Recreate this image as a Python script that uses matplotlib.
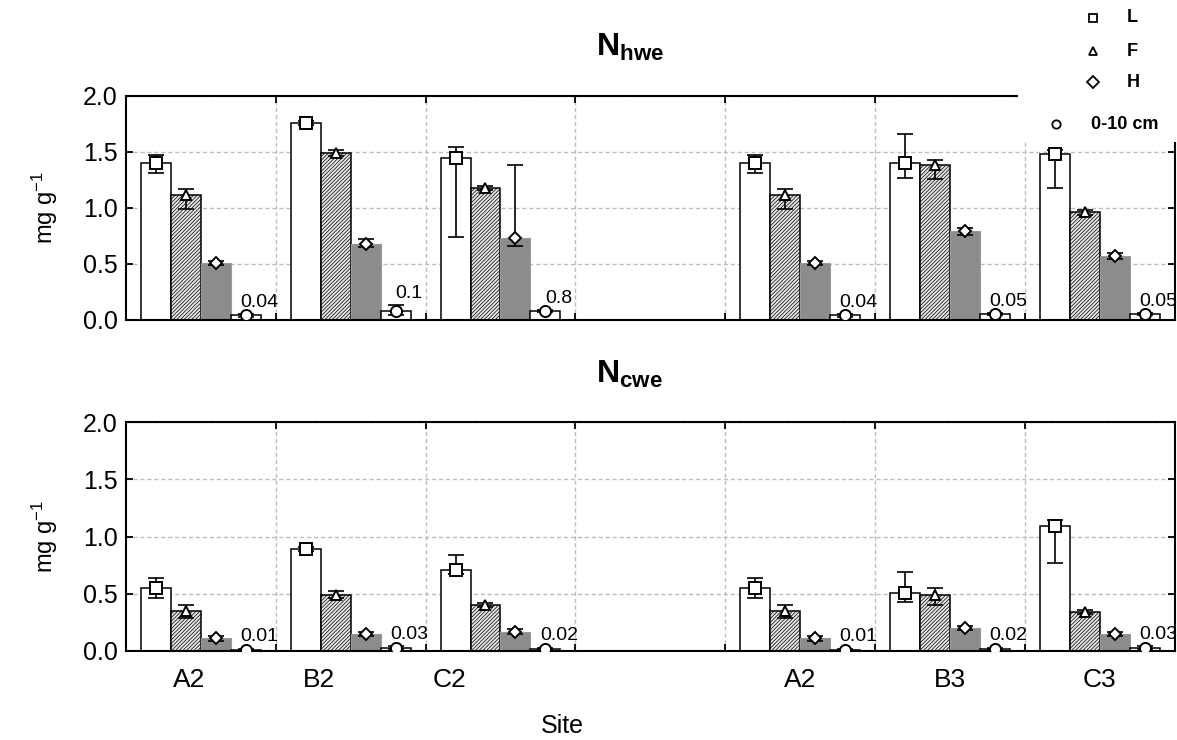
import numpy as np
import matplotlib
matplotlib.use("Agg")
import matplotlib.pyplot as plt
from matplotlib.lines import Line2D
from matplotlib.patches import Rectangle

plt.rcParams.update({
    "font.family": ["Liberation Sans", "DejaVu Sans"],
    "mathtext.fontset": "custom",
    "mathtext.rm": "Liberation Sans",
    "mathtext.it": "Liberation Sans:italic",
    "mathtext.bf": "Liberation Sans:bold",
    "hatch.color": "#5a5a5a",
    "hatch.linewidth": 0.5,
    "axes.linewidth": 1.5,
})

# sites (group 4 is an empty slot)
sites = ["A2", "B2", "C2", "", "A2", "B3", "C3"]
layers = ["L", "F", "H", "0-10 cm"]

# N hwe (mg g-1): means and lower / upper error lengths
hwe_L = [1.40, 1.76, 1.45, np.nan, 1.40, 1.40, 1.48]
hwe_L_lo = [0.09, 0.02, 0.71, np.nan, 0.09, 0.13, 0.30]
hwe_L_hi = [0.07, 0.02, 0.09, np.nan, 0.07, 0.26, 0.04]
hwe_F = [1.12, 1.49, 1.18, np.nan, 1.12, 1.38, 0.96]
hwe_F_lo = [0.13, 0.03, 0.02, np.nan, 0.13, 0.12, 0.02]
hwe_F_hi = [0.05, 0.03, 0.02, np.nan, 0.05, 0.05, 0.02]
hwe_H = [0.51, 0.68, 0.73, np.nan, 0.51, 0.79, 0.57]
hwe_H_lo = [0.02, 0.03, 0.07, np.nan, 0.02, 0.03, 0.03]
hwe_H_hi = [0.02, 0.04, 0.65, np.nan, 0.02, 0.03, 0.03]
hwe_S = [0.04, 0.08, 0.08, np.nan, 0.04, 0.05, 0.05]
hwe_S_lo = [0.01, 0.04, 0.01, np.nan, 0.01, 0.01, 0.01]
hwe_S_hi = [0.01, 0.05, 0.01, np.nan, 0.01, 0.01, 0.01]
hwe_S_text = ["0.04", "0.1", "0.8", "", "0.04", "0.05", "0.05"]

# N cwe (mg g-1)
cwe_L = [0.55, 0.89, 0.71, np.nan, 0.55, 0.51, 1.09]
cwe_L_lo = [0.09, 0.02, 0.04, np.nan, 0.09, 0.08, 0.32]
cwe_L_hi = [0.09, 0.02, 0.13, np.nan, 0.09, 0.18, 0.05]
cwe_F = [0.35, 0.49, 0.40, np.nan, 0.35, 0.49, 0.34]
cwe_F_lo = [0.06, 0.03, 0.02, np.nan, 0.06, 0.09, 0.02]
cwe_F_hi = [0.05, 0.03, 0.02, np.nan, 0.05, 0.06, 0.02]
cwe_H = [0.11, 0.15, 0.17, np.nan, 0.11, 0.20, 0.15]
cwe_H_lo = [0.02, 0.02, 0.02, np.nan, 0.02, 0.02, 0.02]
cwe_H_hi = [0.02, 0.02, 0.02, np.nan, 0.02, 0.02, 0.02]
cwe_S = [0.01, 0.03, 0.02, np.nan, 0.01, 0.02, 0.03]
cwe_S_lo = [0.01, 0.01, 0.01, np.nan, 0.01, 0.01, 0.01]
cwe_S_hi = [0.01, 0.01, 0.01, np.nan, 0.01, 0.01, 0.01]
cwe_S_text = ["0.01", "0.03", "0.02", "", "0.01", "0.02", "0.03"]

# where the site names sit along the x axis
site_label_pos = [0.42, 1.29, 2.16, 3.5, 4.5, 5.5, 6.5]

bar_w = 0.2
offsets = [-0.3, -0.1, 0.1, 0.3]
bar_styles = [
    dict(color="white", edgecolor="black", linewidth=1.1),
    dict(color="#e6e6e6", edgecolor="black", linewidth=1.1, hatch="/////////"),
    dict(color="#8c8c8c", edgecolor="#9a9a9a", linewidth=0.8),
    dict(color="white", edgecolor="black", linewidth=1.1),
]
markers = ["s", "^", "D", "o"]
marker_sizes = [8, 7, 6, 8]


def draw_panel(ax, series, texts):
    x = np.arange(len(sites)) + 0.5
    for k, (vals, lo, hi) in enumerate(series):
        vals = np.asarray(vals, dtype=float)
        xs = x + offsets[k]
        ax.bar(xs, vals, bar_w, zorder=2, **bar_styles[k])
        ax.errorbar(xs, vals, yerr=[lo, hi], fmt="none", ecolor="black",
                    elinewidth=1.2, capsize=6, capthick=1.2, zorder=3)
        ax.plot(xs, vals, linestyle="none", marker=markers[k],
                markersize=marker_sizes[k], markerfacecolor="white",
                markeredgecolor="black", markeredgewidth=1.4, zorder=4)
    soil = np.asarray(series[3][0], dtype=float)
    for i, t in enumerate(texts):
        if t:
            ax.text(x[i] + offsets[3] + 0.09, soil[i] + series[3][2][i] + 0.03, t,
                    ha="center", va="bottom", fontsize=14, zorder=5)

    ax.set_xlim(0, len(sites))
    ax.set_ylim(0, 2.0)
    ax.set_yticks([0, 0.5, 1.0, 1.5, 2.0])
    ax.set_yticklabels(["0.0", "0.5", "1.0", "1.5", "2.0"], fontsize=18)
    ax.set_xticks(np.arange(1, len(sites)))
    ax.set_xticklabels([])
    ax.tick_params(axis="both", which="major", direction="in", length=5,
                   width=1.3, top=True, right=True, pad=6)
    ax.grid(True, which="major", linestyle=(0, (3, 2)), color="#bdbdbd",
            linewidth=1.0)
    ax.set_axisbelow(True)


fig = plt.figure(figsize=(11.77, 7.40), dpi=100)
ax_top = fig.add_axes([0.107, 0.5676, 0.891, 0.3027])
ax_bot = fig.add_axes([0.107, 0.1203, 0.891, 0.3094])

draw_panel(ax_top, [(hwe_L, hwe_L_lo, hwe_L_hi), (hwe_F, hwe_F_lo, hwe_F_hi),
                    (hwe_H, hwe_H_lo, hwe_H_hi), (hwe_S, hwe_S_lo, hwe_S_hi)],
           hwe_S_text)
draw_panel(ax_bot, [(cwe_L, cwe_L_lo, cwe_L_hi), (cwe_F, cwe_F_lo, cwe_F_hi),
                    (cwe_H, cwe_H_lo, cwe_H_hi), (cwe_S, cwe_S_lo, cwe_S_hi)],
           cwe_S_text)

ax_bot.set_xticks(site_label_pos, minor=True)
ax_bot.set_xticklabels(sites, minor=True, fontsize=19)
ax_bot.tick_params(axis="x", which="minor", length=0, pad=12)

for ax, yc in ((ax_top, 0.72), (ax_bot, 0.275)):
    fig.text(0.038, yc, r"mg g$^{-1}$", rotation=90, ha="center", va="center",
             fontsize=17)

fig.text(0.535, 0.936, r"$\mathbf{N_{hwe}}$", ha="center", va="center", fontsize=23)
fig.text(0.535, 0.494, r"$\mathbf{N_{cwe}}$", ha="center", va="center", fontsize=23)
fig.text(0.478, 0.019, "Site", ha="center", va="center", fontsize=18)

# legend block in the top right corner, on white
fig.add_artist(Rectangle((0.865, 0.808), 0.135, 0.192, transform=fig.transFigure,
                         facecolor="white", edgecolor="none", zorder=10))
legend_rows = [(0.929, 0.976, 0.957), (0.929, 0.931, 0.957),
               (0.929, 0.889, 0.957), (0.897, 0.832, 0.927)]
for (mx, my, tx), mk, lab in zip(legend_rows, markers, layers):
    fig.add_artist(Line2D([mx], [my], transform=fig.transFigure, marker=mk,
                          markersize=6, markerfacecolor="white",
                          markeredgecolor="black", markeredgewidth=1.3,
                          linestyle="none", zorder=11))
    fig.text(tx, my, lab, ha="left", va="center", fontsize=13,
             fontweight="bold", zorder=11)

fig.savefig("out.png", dpi=100)
